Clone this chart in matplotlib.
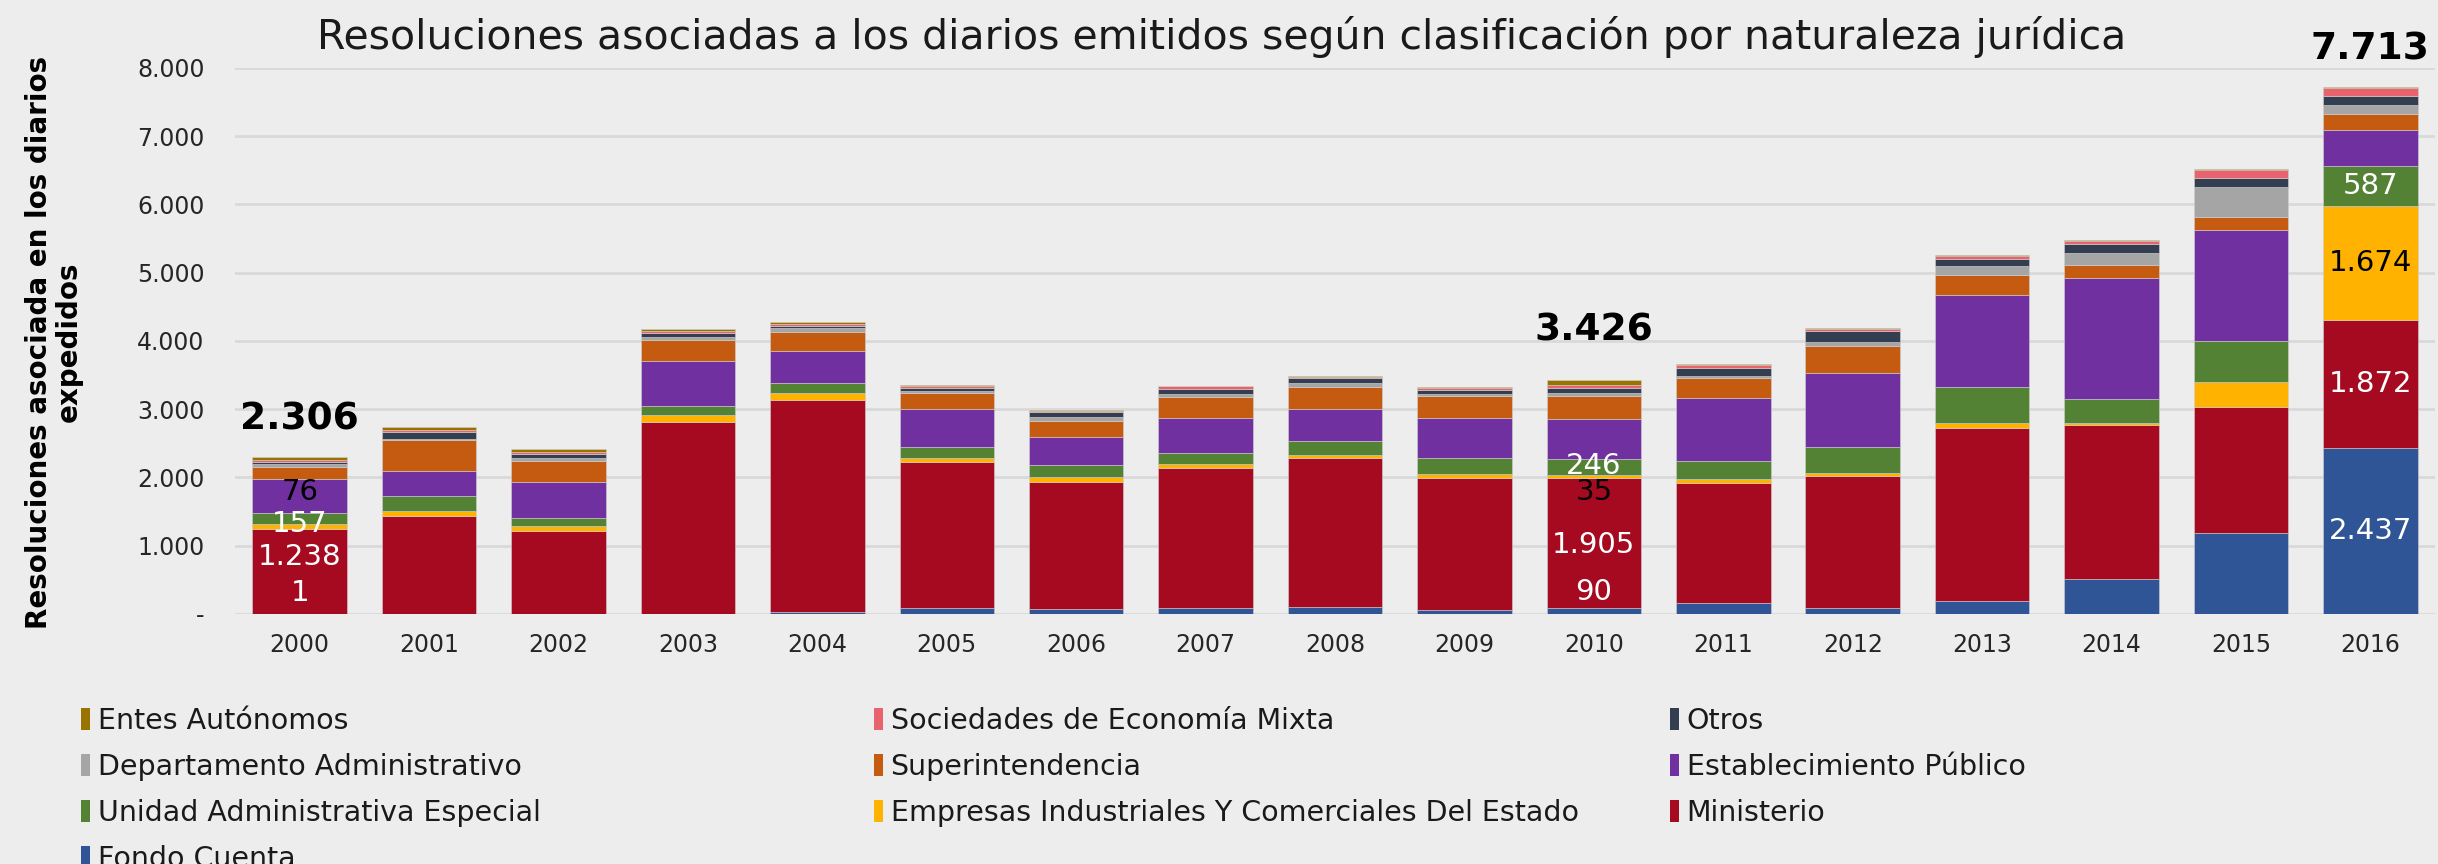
import matplotlib
matplotlib.use("Agg")
import matplotlib.pyplot as plt
from matplotlib.patches import Patch

years = [str(y) for y in range(2000, 2017)]

# series, bottom to top of each stacked bar
fondo_cuenta = [1, 0, 0, 0, 34, 88, 78, 93, 107, 59, 90, 161, 88, 197, 509, 1191, 2437]
ministerio = [1238, 1439, 1215, 2814, 3103, 2142, 1858, 2049, 2171, 1936, 1905, 1751, 1927, 2526, 2256, 1843, 1872]
empresas = [76, 73, 78, 98, 98, 54, 74, 59, 54, 49, 35, 59, 53, 72, 36, 371, 1674]
unidad_adm = [157, 210, 107, 142, 142, 162, 166, 162, 205, 239, 246, 273, 381, 532, 353, 599, 587]
establecimiento = [499, 366, 532, 647, 481, 554, 417, 510, 473, 585, 587, 917, 1078, 1347, 1765, 1627, 520]
superintendencia = [185, 458, 312, 319, 269, 230, 240, 299, 322, 327, 332, 302, 405, 293, 198, 186, 230]
departamento = [35, 20, 39, 44, 59, 35, 54, 53, 58, 34, 39, 30, 53, 132, 173, 443, 137]
otros = [30, 97, 54, 49, 35, 39, 69, 64, 64, 54, 83, 117, 161, 107, 132, 125, 125]
sociedades = [35, 39, 34, 29, 34, 34, 15, 44, 24, 29, 34, 34, 34, 42, 48, 126, 130]
entes = [50, 35, 49, 34, 20, 20, 24, 10, 15, 15, 75, 24, 10, 18, 10, 5, 1]

series = [
    ("Fondo Cuenta", fondo_cuenta, "#2F5597"),
    ("Ministerio", ministerio, "#A50A20"),
    ("Empresas Industriales Y Comerciales Del Estado", empresas, "#FFB300"),
    ("Unidad Administrativa Especial", unidad_adm, "#548235"),
    ("Establecimiento Público", establecimiento, "#7030A0"),
    ("Superintendencia", superintendencia, "#C55A11"),
    ("Departamento Administrativo", departamento, "#A5A5A5"),
    ("Otros", otros, "#333F50"),
    ("Sociedades de Economía Mixta", sociedades, "#E9636E"),
    ("Entes Autónomos", entes, "#997300"),
]

labeled_years = ["2000", "2010", "2016"]
labeled_series = ["Fondo Cuenta", "Ministerio",
                  "Empresas Industriales Y Comerciales Del Estado",
                  "Unidad Administrativa Especial"]
label_colors = {"Empresas Industriales Y Comerciales Del Estado": "black"}
# labels that were moved by hand in the original (year, series) -> y
moved_labels = {
    ("2000", "Fondo Cuenta"): 308, ("2000", "Ministerio"): 835,
    ("2000", "Empresas Industriales Y Comerciales Del Estado"): 1790,
    ("2000", "Unidad Administrativa Especial"): 1320,
    ("2010", "Fondo Cuenta"): 322, ("2010", "Ministerio"): 1011,
    ("2010", "Empresas Industriales Y Comerciales Del Estado"): 1790,
    ("2010", "Unidad Administrativa Especial"): 2175,
}
total_offsets = {"2000": 540, "2010": 720, "2016": 550}


def fmt(v):
    return "-" if v == 0 else f"{v:,.0f}".replace(",", ".")


plt.rcParams["font.family"] = ["DejaVu Sans"]
bg = "#EDEDED"
fig = plt.figure(figsize=(24.38, 8.64), dpi=100, facecolor=bg)
ax = fig.add_axes([0.0964, 0.2894, 0.9024, 0.632], facecolor=bg)

x = list(range(len(years)))
bottom = [0] * len(years)
for name, vals, col in series:
    ax.bar(x, vals, 0.73, bottom=bottom, color=col, edgecolor="#D0D0D0", linewidth=0.4, zorder=3)
    for yr in labeled_years:
        i = years.index(yr)
        if name in labeled_series:
            y = moved_labels.get((yr, name), bottom[i] + vals[i] / 2)
            ax.text(i, y, fmt(vals[i]), ha="center", va="center", fontsize=21,
                    color=label_colors.get(name, "white"), zorder=5)
    bottom = [b + v for b, v in zip(bottom, vals)]

for yr in labeled_years:
    i = years.index(yr)
    ax.text(i, bottom[i] + total_offsets[yr], fmt(bottom[i]), ha="center", va="center",
            fontsize=27, fontweight="bold", color="black", clip_on=False, zorder=5)

ax.set_xlim(-0.5, len(years) - 0.5)
ax.set_ylim(0, 8000)
ax.set_xticks(x)
ax.set_xticklabels(years)
ticks = list(range(0, 8001, 1000))
ax.set_yticks(ticks)
ax.set_yticklabels([fmt(t) for t in ticks])
ax.tick_params(axis="both", length=0, labelsize=17, colors="#262626")
ax.tick_params(axis="x", pad=14)
ax.tick_params(axis="y", pad=22)
ax.grid(axis="y", color="#D9D9D9", linewidth=2, zorder=0)
for s in ax.spines.values():
    s.set_visible(False)

fig.text(0.501, 0.957, "Resoluciones asociadas a los diarios emitidos según clasificación por naturaleza jurídica",
         ha="center", va="center", fontsize=29.5, color="#1a1a1a")
fig.text(0.022, 0.604, "Resoluciones asociada en los diarios\nexpedidos", rotation=90,
         ha="center", va="center", multialignment="center", fontsize=20, fontweight="bold",
         linespacing=1.1)

# legend, filled row by row like the original: three columns
by_name = {n: c for n, _, c in series}
legend_cols = [
    ["Entes Autónomos", "Departamento Administrativo", "Unidad Administrativa Especial", "Fondo Cuenta"],
    ["Sociedades de Economía Mixta", "Superintendencia", "Empresas Industriales Y Comerciales Del Estado"],
    ["Otros", "Establecimiento Público", "Ministerio"],
]
for col_x, names in zip([81, 874, 1670], legend_cols):
    handles = [Patch(facecolor=by_name[n], edgecolor="none") for n in names]
    fig.legend(handles, names, loc="upper left", bbox_to_anchor=(col_x / 2438, 1 - 707 / 864),
               frameon=False, fontsize=20.5, handlelength=0.33, handleheight=0.85,
               handletextpad=0.25, labelspacing=0.63, borderpad=0, borderaxespad=0,
               labelcolor="#1a1a1a")

fig.savefig("out.png", dpi=100, facecolor=bg)
